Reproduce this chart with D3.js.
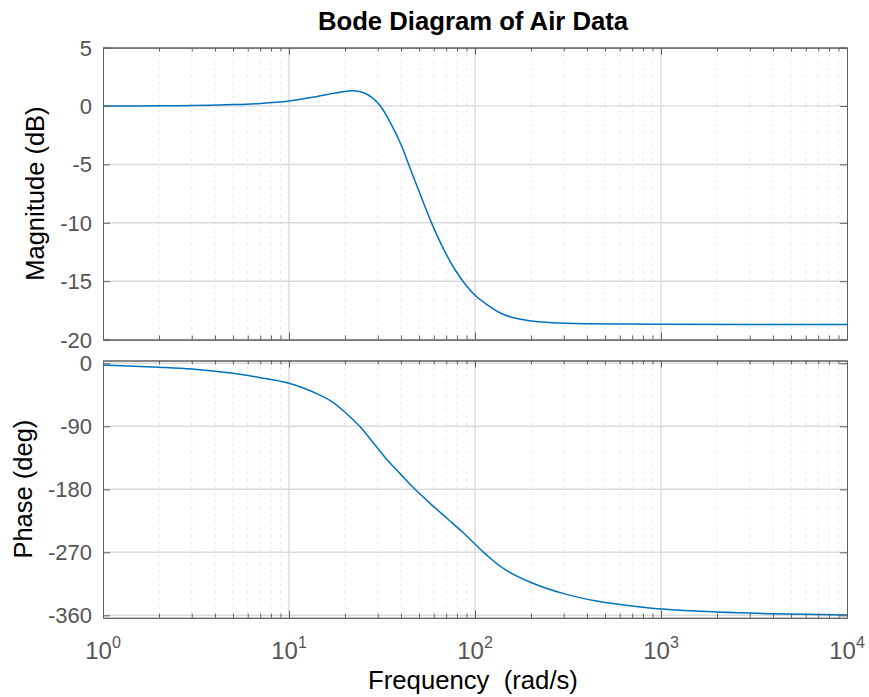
<!DOCTYPE html>
<html><head><meta charset="utf-8">
<script src="https://cdn.jsdelivr.net/npm/d3@7/dist/d3.min.js"></script>
<style>body{margin:0;background:#fff}svg{display:block}text{white-space:pre}</style>
</head><body>
<svg id="chart" width="869" height="697"></svg>
<script>
// ---- data ----
const magFreq = [1, 2, 3, 5, 7, 10, 14, 17.3, 20, 22, 25, 28, 31, 35, 40, 44, 50, 58, 68, 78, 88, 100, 116, 136, 154, 200, 286, 400, 1000, 10000];
const magDb   = [0, 0.02, 0.04, 0.12, 0.22, 0.43, 0.8, 1.08, 1.25, 1.31, 1.16, 0.72, 0.0, -1.4, -3.3, -5.0, -7.3, -9.9, -12.3, -14.0, -15.2, -16.2, -17.0, -17.7, -18.04, -18.4, -18.58, -18.64, -18.69, -18.7];
const phaseFreq = [1, 2, 3, 5, 7, 10, 14, 17.3, 20.4, 24, 28.3, 33.5, 40, 47.6, 57.3, 70.4, 86.5, 115.6, 144, 200, 297, 450, 680, 1000, 2000, 4000, 10000];
const phaseDeg  = [-2.4, -5.5, -8.1, -14.3, -20.5, -28.6, -43, -56, -72, -90, -113, -137, -159, -180, -200, -221, -242, -274, -294, -313, -328.6, -339.6, -346.3, -351, -355.3, -357.7, -359.4];
const magTicks = [5, 0, -5, -10, -15, -20];
const phaseTicks = [0, -90, -180, -270, -360];
const freqDecades = [1, 10, 100, 1000, 10000];
const decadeExponents = ["0", "1", "2", "3", "4"];
const titleText = "Bode Diagram of Air Data";
const magLabel = "Magnitude (dB)";
const phaseLabel = "Phase (deg)";
const freqLabel = "Frequency  (rad/s)";

// ---- layout ----
const svg = d3.select("#chart");
const L = 103, R = 847;
const FONT = "'Liberation Sans', Arial, Helvetica, sans-serif";
const boxColor = "#5f5f5f", textColor = "#555555";
const majorGrid = "#dcdcdc", minorGrid = "#c8c8c8";
const lineColor = "#0072BD";

const x = d3.scaleLog().domain([1, 10000]).range([L, R]);
const minorFreqs = [];
for (let d = 1; d < 10000; d *= 10) for (let k = 2; k <= 9; k++) minorFreqs.push(d * k);

function panel(top, bottom, ydomain, yticks, fx, fy, labelText, labelX, showX) {
  const y = d3.scaleLinear().domain(ydomain).range([bottom, top]);
  const g = svg.append("g");
  g.append("g").selectAll("line").data(minorFreqs).join("line")
    .attr("x1", d => x(d)).attr("x2", d => x(d)).attr("y1", top).attr("y2", bottom)
    .attr("stroke", minorGrid).attr("stroke-width", 1).attr("stroke-dasharray", "1,6");
  g.append("g").selectAll("line").data(freqDecades.slice(1, -1)).join("line")
    .attr("x1", d => x(d)).attr("x2", d => x(d)).attr("y1", top).attr("y2", bottom)
    .attr("stroke", majorGrid).attr("stroke-width", 1.5);
  g.append("g").selectAll("line").data(yticks).join("line")
    .attr("x1", L).attr("x2", R).attr("y1", d => y(d)).attr("y2", d => y(d))
    .attr("stroke", majorGrid).attr("stroke-width", 1.5);
  const pts = fx.map((f, i) => [f, fy[i]]);
  g.append("path").datum(pts)
    .attr("d", d3.line().x(d => x(d[0])).y(d => y(d[1])).curve(d3.curveCatmullRom.alpha(0.5)))
    .attr("fill", "none").attr("stroke", lineColor).attr("stroke-width", 1.5);
  const yl = d3.axisLeft(y).tickValues(yticks).tickSize(-7).tickFormat("");
  const yr = d3.axisRight(y).tickValues(yticks).tickSize(-7).tickFormat("");
  const xt = d3.axisTop(x).tickValues(freqDecades).tickSize(-7).tickFormat("");
  const xb = d3.axisBottom(x).tickValues(freqDecades).tickSize(-7).tickFormat("");
  const xtm = d3.axisTop(x).tickValues(minorFreqs).tickSize(-4).tickFormat("");
  const xbm = d3.axisBottom(x).tickValues(minorFreqs).tickSize(-4).tickFormat("");
  const ax = [[yl, `translate(${L},0)`], [yr, `translate(${R},0)`], [xt, `translate(0,${top})`], [xb, `translate(0,${bottom})`], [xtm, `translate(0,${top})`], [xbm, `translate(0,${bottom})`]];
  ax.forEach(([a, t]) => {
    const ag = g.append("g").attr("transform", t).call(a.tickSizeOuter(0));
    ag.selectAll("path,line").attr("stroke", boxColor).attr("stroke-width", 1);
  });
  g.append("g").selectAll("text").data(yticks).join("text")
    .attr("x", L - 11).attr("y", d => y(d) + 8).attr("text-anchor", "end")
    .attr("font-family", FONT).attr("font-size", 22).attr("fill", textColor).text(d => d);
  g.append("text").attr("transform", `translate(${labelX},${(top + bottom) / 2}) rotate(-90)`)
    .attr("text-anchor", "middle").attr("font-family", FONT).attr("font-size", 25.5).attr("fill", "#000").text(labelText);
  if (showX) {
    const lab = g.append("g").selectAll("text").data(freqDecades).join("text")
      .attr("x", d => x(d)).attr("y", bottom + 41).attr("text-anchor", "middle")
      .attr("font-family", FONT).attr("font-size", 24).attr("fill", textColor);
    lab.append("tspan").text("10");
    lab.append("tspan").attr("font-size", 16).attr("dy", -11).text((d, i) => decadeExponents[i]);
  }
  return y;
}

panel(47.6, 339.6, [-20, 5], magTicks, magFreq, magDb, magLabel, 44, false);
panel(360.5, 617.8, [-363.5, 4], phaseTicks, phaseFreq, phaseDeg, phaseLabel, 32, true);

svg.append("text").attr("x", (L + R) / 2 - 2).attr("y", 30).attr("text-anchor", "middle")
  .attr("font-family", FONT).attr("font-weight", "bold").attr("font-size", 25.7).attr("fill", "#000").text(titleText);
svg.append("text").attr("x", (L + R) / 2 - 2).attr("y", 689).attr("text-anchor", "middle")
  .attr("font-family", FONT).attr("font-size", 25.7).attr("fill", "#000").text(freqLabel);
</script>
</body></html>
